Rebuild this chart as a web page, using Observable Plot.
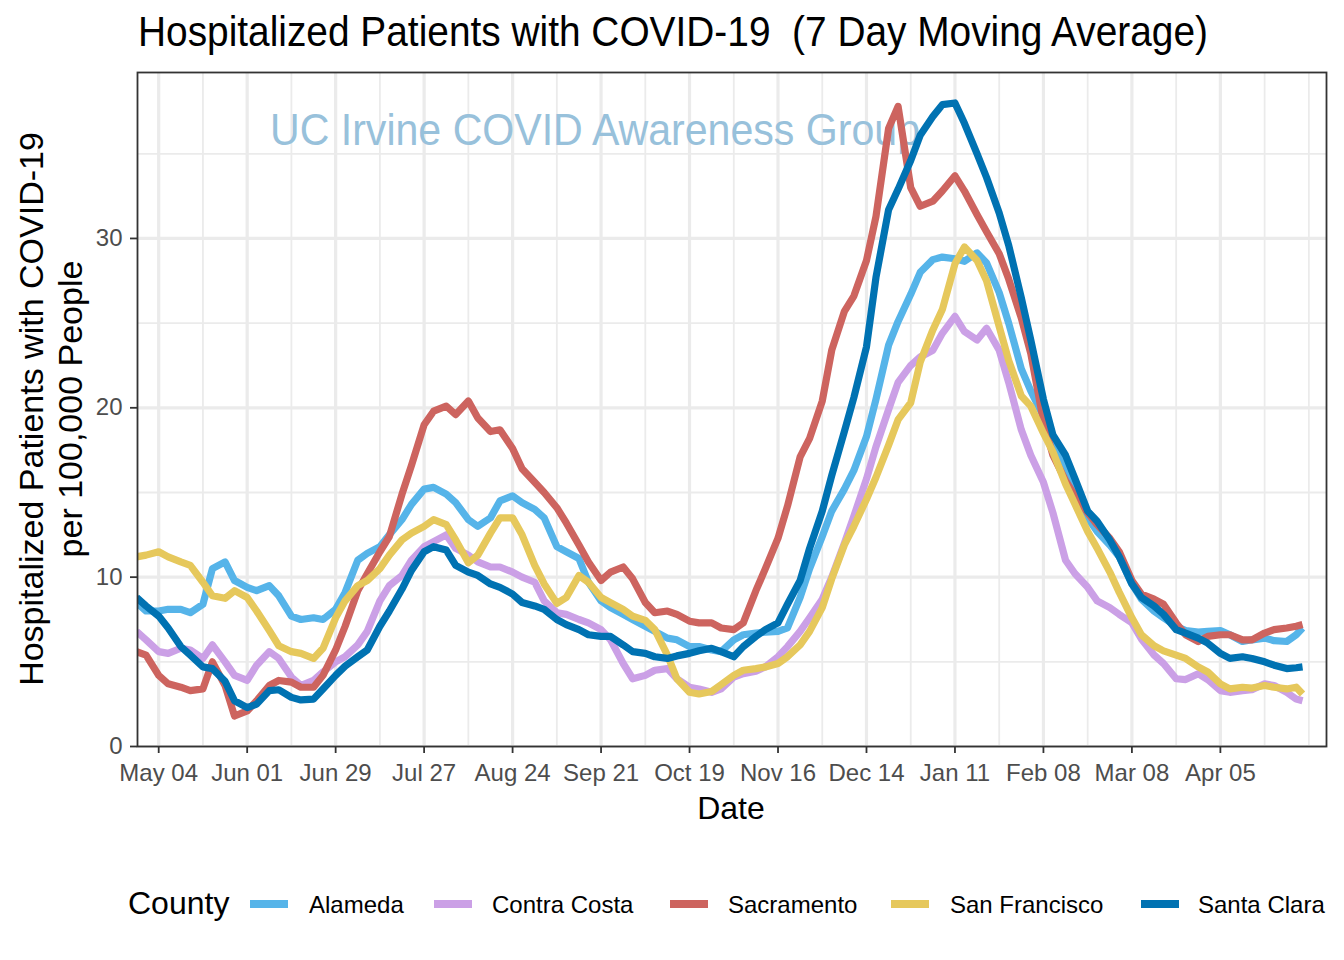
<!DOCTYPE html>
<html>
<head>
<meta charset="utf-8">
<script src="https://cdn.jsdelivr.net/npm/d3@7"></script>
<script src="https://cdn.jsdelivr.net/npm/@observablehq/plot@0.6"></script>
<style>
  html, body { margin: 0; padding: 0; background: #ffffff; }
  #chart { width: 1344px; height: 960px; }
</style>
</head>
<body>
<div id="chart"></div>
<script>
// ---------- DATA ----------
const dates = [
  "2020-04-27","2020-04-30","2020-05-04","2020-05-07","2020-05-11","2020-05-14","2020-05-18","2020-05-21",
  "2020-05-25","2020-05-28","2020-06-01","2020-06-04","2020-06-08","2020-06-11","2020-06-15","2020-06-18",
  "2020-06-22","2020-06-25","2020-06-29","2020-07-02","2020-07-06","2020-07-09","2020-07-13","2020-07-16",
  "2020-07-20","2020-07-23","2020-07-27","2020-07-30","2020-08-03","2020-08-06","2020-08-10","2020-08-13",
  "2020-08-17","2020-08-20","2020-08-24","2020-08-27","2020-08-31","2020-09-03","2020-09-07","2020-09-10",
  "2020-09-14","2020-09-17","2020-09-21","2020-09-24","2020-09-28","2020-10-01","2020-10-05","2020-10-08",
  "2020-10-12","2020-10-15","2020-10-19","2020-10-22","2020-10-26","2020-10-29","2020-11-02","2020-11-05",
  "2020-11-09","2020-11-12","2020-11-16","2020-11-19","2020-11-23","2020-11-26","2020-11-30","2020-12-03",
  "2020-12-07","2020-12-10","2020-12-14","2020-12-17","2020-12-21","2020-12-24","2020-12-28","2020-12-31",
  "2021-01-04","2021-01-07","2021-01-11","2021-01-14","2021-01-18","2021-01-21","2021-01-25","2021-01-28",
  "2021-02-01","2021-02-04","2021-02-08","2021-02-11","2021-02-15","2021-02-18","2021-02-22","2021-02-25",
  "2021-03-01","2021-03-04","2021-03-08","2021-03-11","2021-03-15","2021-03-18","2021-03-22","2021-03-25",
  "2021-03-29","2021-04-01","2021-04-05","2021-04-08","2021-04-12","2021-04-15","2021-04-19","2021-04-22",
  "2021-04-26","2021-04-29","2021-05-01"
];

const alameda = [
  8.5,8.0, 8.0,8.1, 8.1,7.9, 8.4,10.5, 10.9,9.8, 9.4,9.2, 9.5,8.9, 7.7,7.5, 7.6,7.5, 8.1,9.1,
  11.0,11.4, 11.8,12.5, 13.4,14.3, 15.2,15.3, 14.9,14.4, 13.4,13.0, 13.5,14.5, 14.8,14.4, 14.0,13.5, 11.8,11.5,
  11.1,9.7, 8.6,8.2, 7.8,7.5, 7.1,6.8, 6.4,6.3, 5.9,5.9, 5.7,5.6, 6.3,6.6, 6.7,6.75, 6.8,7.0,
  8.8,10.5, 12.4,13.9, 15.2,16.3, 18.3,20.5, 23.7,25.1, 26.7,28.0, 28.75,28.9, 28.8,28.65, 29.15,28.55, 26.8,25.0,
  22.3,21.0, 19.5,18.3, 16.5,15.0, 13.5,12.7, 11.9,11.2, 9.6,8.7, 8.0,7.6, 7.1,6.85, 6.75,6.8, 6.85,6.6,
  6.2,6.3, 6.4,6.25, 6.2,6.6, 7.0
];

const contraCosta = [
  6.8,6.3, 5.6,5.5, 5.8,5.7, 5.2,6.0, 5.0,4.2, 3.9,4.8, 5.6,5.2, 4.1,3.6, 3.9,4.4, 5.0,5.3,
  6.0,6.8, 8.6,9.5, 10.1,11.0, 11.8,12.1, 12.5,11.7, 11.3,10.9, 10.6,10.6, 10.3,10.0, 9.7,8.6, 7.9,7.8,
  7.5,7.3, 6.9,6.3, 4.9,4.0, 4.2,4.5, 4.6,4.0, 3.5,3.4, 3.2,3.4, 4.1,4.3, 4.45,4.7, 5.3,5.9,
  6.8,7.6, 8.7,10.0, 12.0,13.6, 15.8,17.7, 19.9,21.5, 22.5,23.0, 23.4,24.4, 25.4,24.5, 24.0,24.7, 23.4,21.5,
  18.7,17.2, 15.6,13.8, 11.0,10.2, 9.4,8.6, 8.2,7.8, 7.3,6.35, 5.4,4.9, 4.0,3.95, 4.3,3.95, 3.3,3.2,
  3.3,3.35, 3.7,3.6, 3.2,2.8, 2.7
];

const sacramento = [
  5.6,5.4, 4.2,3.7, 3.5,3.3, 3.4,5.0, 3.6,1.8, 2.1,2.7, 3.6,3.9, 3.8,3.5, 3.5,4.2, 5.7,7.1,
  9.2,10.2, 11.5,12.4, 14.9,16.6, 19.0,19.8, 20.1,19.6, 20.4,19.4, 18.6,18.7, 17.6,16.4, 15.6,15.0, 14.1,13.2,
  11.9,10.9, 9.8,10.3, 10.6,9.9, 8.5,7.9, 8.0,7.8, 7.4,7.3, 7.3,7.0, 6.9,7.3, 9.2,10.5, 12.3,14.2,
  17.1,18.2, 20.4,23.4, 25.7,26.6, 28.7,31.3, 36.5,37.8, 33.0,31.9, 32.2,32.8, 33.7,32.8, 31.4,30.4, 29.1,27.6,
  25.3,23.2, 19.2,17.2, 15.7,14.8, 13.8,13.1, 12.3,11.5, 9.8,9.0, 8.7,8.4, 7.3,6.6, 6.2,6.5, 6.6,6.6,
  6.3,6.3, 6.7,6.9, 7.0,7.1, 7.2
];

const sanFrancisco = [
  11.2,11.3, 11.5,11.2, 10.9,10.7, 9.7,8.9, 8.75,9.2, 8.8,8.0, 6.85,5.95, 5.6,5.5, 5.2,5.8, 7.6,8.6,
  9.5,9.8, 10.5,11.3, 12.2,12.6, 13.0,13.4, 13.1,12.2, 10.85,11.3, 12.6,13.5, 13.5,12.5, 10.7,9.6, 8.45,8.8,
  10.1,9.7, 8.8,8.5, 8.1,7.7, 7.45,6.9, 5.4,4.0, 3.2,3.1, 3.25,3.65, 4.2,4.5, 4.6,4.7, 4.9,5.3,
  6.0,6.8, 8.2,9.9, 11.9,13.0, 14.6,15.9, 17.8,19.3, 20.3,22.7, 24.6,25.8, 28.5,29.5, 28.7,27.5, 24.8,22.8,
  20.7,20.1, 18.5,17.4, 15.5,14.3, 12.7,11.7, 10.3,9.1, 7.6,6.6, 5.95,5.65, 5.4,5.2, 4.7,4.4, 3.7,3.4,
  3.5,3.45, 3.6,3.5, 3.4,3.5, 3.1
];

const santaClara = [
  8.8,8.3, 7.7,7.0, 5.9,5.4, 4.7,4.6, 3.85,2.7, 2.3,2.5, 3.3,3.35, 2.9,2.75, 2.8,3.4, 4.2,4.75,
  5.3,5.7, 7.1,8.0, 9.3,10.4, 11.5,11.8, 11.6,10.7, 10.3,10.1, 9.6,9.4, 9.0,8.5, 8.3,8.1, 7.5,7.2,
  6.9,6.6, 6.5,6.5, 6.0,5.6, 5.5,5.3, 5.2,5.35, 5.5,5.65, 5.8,5.6, 5.3,5.9, 6.5,6.9, 7.3,8.4,
  9.8,11.7, 13.9,16.0, 18.6,20.6, 23.6,27.7, 31.7,32.9, 34.6,36.1, 37.2,37.9, 38.0,36.8, 35.0,33.6, 31.5,29.6,
  26.5,24.0, 20.5,18.4, 17.2,15.8, 13.9,13.3, 12.2,11.2, 9.6,8.8, 8.3,7.8, 6.9,6.7, 6.4,6.1, 5.5,5.2,
  5.3,5.2, 5.0,4.8, 4.6,4.65, 4.7
];

const counties = ["Alameda", "Contra Costa", "Sacramento", "San Francisco", "Santa Clara"];
const countyColors = ["#56B4E9", "#CBA0E6", "#CD645F", "#E6C85C", "#0072B2"];

const xTickDates = ["2020-05-04","2020-06-01","2020-06-29","2020-07-27","2020-08-24","2020-09-21",
  "2020-10-19","2020-11-16","2020-12-14","2021-01-11","2021-02-08","2021-03-08","2021-04-05"];
const xMinorDates = ["2020-05-18","2020-06-15","2020-07-13","2020-08-10","2020-09-07","2020-10-05",
  "2020-11-02","2020-11-30","2020-12-28","2021-01-25","2021-02-22","2021-03-22","2021-04-19","2021-05-03"];
const yTicks = [0, 10, 20, 30];
const yMinor = [5, 15, 25, 35];

const titleText = "Hospitalized Patients with COVID-19  (7 Day Moving Average)";
const yTitle1 = "Hospitalized Patients with COVID-19";
const yTitle2 = "per 100,000 People";
const xTitle = "Date";
const legendTitle = "County";
const watermark = "UC Irvine COVID Awareness Group";

// ---------- BUILD ----------
const toDate = s => new Date(s + "T00:00:00Z");
const seriesValues = [alameda, contraCosta, sacramento, sanFrancisco, santaClara];
const rows = [];
counties.forEach((c, k) => {
  dates.forEach((d, i) => {
    rows.push({ county: c, date: toDate(d), value: seriesValues[k][i] });
  });
});

const FONT = "'Liberation Sans', Arial, Helvetica, sans-serif";

const chart = Plot.plot({
  width: 1344,
  height: 960,
  marginLeft: 137,
  marginRight: 18,
  marginTop: 72,
  marginBottom: 214,
  style: { fontFamily: FONT, background: "#ffffff", overflow: "visible" },
  x: { type: "utc", domain: [new Date("2020-04-27T07:00:00Z"), new Date("2021-05-08T14:00:00Z")] },
  y: { domain: [0, 39.8] },
  color: { domain: counties, range: countyColors },
  marks: [
    Plot.ruleX(xMinorDates.map(toDate), { stroke: "#EBEBEB", strokeWidth: 1.8 }),
    Plot.ruleY(yMinor, { stroke: "#EBEBEB", strokeWidth: 1.8 }),
    Plot.ruleX(xTickDates.map(toDate), { stroke: "#EBEBEB", strokeWidth: 3.2 }),
    Plot.ruleY(yTicks, { stroke: "#EBEBEB", strokeWidth: 3.2 }),
    Plot.line(rows, {
      x: "date", y: "value", z: "county", stroke: "county",
      strokeWidth: 7.2, strokeLinejoin: "round", strokeLinecap: "butt", clip: true
    }),
    Plot.frame({ stroke: "#333333", strokeWidth: 1.8 }),
    Plot.axisX({
      ticks: xTickDates.map(toDate), tickFormat: d3.utcFormat("%b %d"),
      tickSize: 7, tickPadding: 10, fontSize: 24, label: null,
      stroke: "#333333", strokeWidth: 1.8, fill: "#4D4D4D"
    }),
    Plot.axisY({
      ticks: yTicks, tickSize: 7, tickPadding: 8, fontSize: 24, label: null,
      stroke: "#333333", strokeWidth: 1.8, fill: "#4D4D4D"
    })
  ]
});

document.getElementById("chart").appendChild(chart);

// ---------- ANNOTATIONS ----------
const svg = d3.select(chart);

// watermark beneath the lines
svg.insert("text", 'g[aria-label="line"]')
  .attr("x", 270).attr("y", 145)
  .attr("text-anchor", "start")
  .attr("font-family", FONT).attr("font-size", 44)
  .attr("textLength", 650).attr("lengthAdjust", "spacingAndGlyphs")
  .attr("fill", "#98C1DB")
  .text(watermark);

// title
svg.append("text")
  .attr("x", 138).attr("y", 46)
  .attr("text-anchor", "start")
  .attr("font-family", FONT).attr("font-size", 42)
  .attr("textLength", 1070).attr("lengthAdjust", "spacingAndGlyphs")
  .attr("fill", "#000")
  .text(titleText);

// axis titles
svg.append("text")
  .attr("x", 731).attr("y", 819)
  .attr("text-anchor", "middle")
  .attr("font-family", FONT).attr("font-size", 32)
  .attr("fill", "#000").text(xTitle);

svg.append("text")
  .attr("transform", "translate(43,409) rotate(-90)")
  .attr("text-anchor", "middle")
  .attr("font-family", FONT).attr("font-size", 34)
  .attr("fill", "#000").text(yTitle1);

svg.append("text")
  .attr("transform", "translate(82,409) rotate(-90)")
  .attr("text-anchor", "middle")
  .attr("font-family", FONT).attr("font-size", 34)
  .attr("fill", "#000").text(yTitle2);

// legend
const legend = svg.append("g").attr("text-anchor", "start");
legend.append("text")
  .attr("x", 128).attr("y", 914)
  .attr("text-anchor", "start")
  .attr("font-family", FONT).attr("font-size", 32)
  .attr("fill", "#000").text(legendTitle);

const keyStarts = [250, 434, 670, 891, 1141];
const labelStarts = [309, 492, 728, 950, 1198];
counties.forEach((c, k) => {
  legend.append("line")
    .attr("x1", keyStarts[k]).attr("x2", keyStarts[k] + 38)
    .attr("y1", 904).attr("y2", 904)
    .attr("stroke", countyColors[k]).attr("stroke-width", 8);
  legend.append("text")
    .attr("x", labelStarts[k]).attr("y", 913)
    .attr("text-anchor", "start")
    .attr("font-family", FONT).attr("font-size", 24)
    .attr("fill", "#000").text(c);
});
</script>
</body>
</html>
